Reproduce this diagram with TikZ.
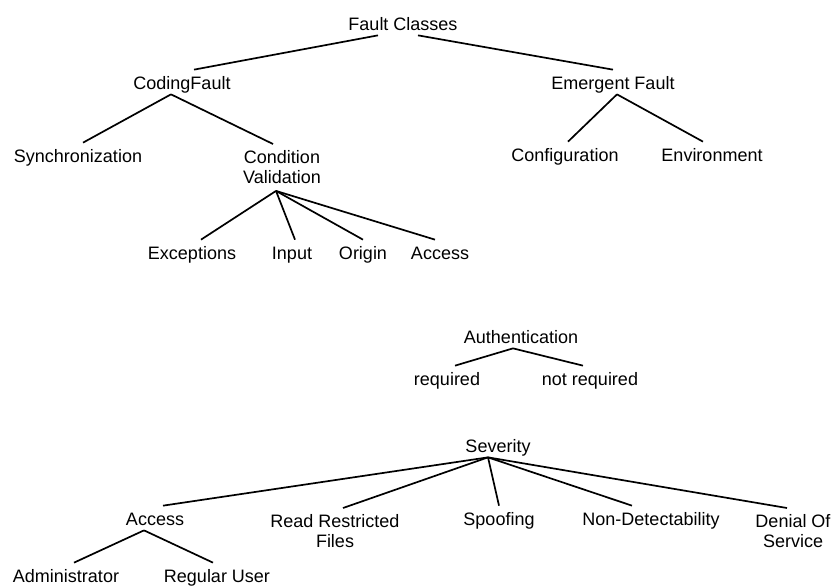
\documentclass[tikz,border=0pt]{standalone}
\usepackage{fontspec}
\setmainfont{Liberation Sans}

\begin{document}
\begin{tikzpicture}[x=1pt, y=-1pt, line width=1.7pt,
    lbl/.style={anchor=base, inner xsep=1pt, inner ysep=0.5pt, text height=18pt, text depth=4pt},
    lbltwo/.style={anchor=north, align=center, inner xsep=1pt, inner ysep=6pt}]

        \useasboundingbox (0, 0) rectangle (834, 587);
        \fontsize{18}{20}\selectfont

        % fault classes
        \node[lbl] (fc) at (403, 30) {Fault Classes};
        \node[lbl] (cf) at (182, 89) {CodingFault};
        \node[lbl] (ef) at (613, 89) {Emergent Fault};
        \node[lbl] (sync) at (78, 162) {Synchronization};
        \node[lbltwo] (cv) at (282, 144) {Condition\\Validation};
        \node[lbl] (conf) at (565, 161) {Configuration};
        \node[lbl] (env) at (712, 161) {Environment};
        \node[lbl] (exc) at (192, 259) {Exceptions};
        \node[lbl] (inp) at (292, 259) {Input};
        \node[lbl] (ori) at (363, 259) {Origin};
        \node[lbl] (acc) at (440, 259) {Access};

        \draw ([xshift=-25pt]fc.south) -- ([xshift=12pt]cf.north);
        \draw ([xshift=15pt]fc.south) -- (ef.north);
        \draw ([xshift=-11pt]cf.south) -- ([xshift=5pt]sync.north);
        \draw ([xshift=-11pt]cf.south) -- ([xshift=-9pt]cv.north);
        \draw ([xshift=4pt]ef.south) -- ([xshift=3pt]conf.north);
        \draw ([xshift=4pt]ef.south) -- ([xshift=-9pt]env.north);
        \foreach \c/\dx in {exc/9, inp/3, ori/0, acc/-5} {
            \draw ([xshift=-6pt]cv.south) -- ([xshift=\dx pt]\c.north);
        }

        % authentication
        \node[lbl] (auth) at (521, 343) {Authentication};
        \node[lbl] (req) at (447, 385) {required};
        \node[lbl] (nreq) at (590, 385) {not required};

        \draw ([xshift=-8pt]auth.south) -- ([xshift=8pt]req.north);
        \draw ([xshift=-8pt]auth.south) -- ([xshift=-7pt]nreq.north);

        % severity
        \node[lbl] (sev) at (498, 452) {Severity};
        \node[lbl] (sacc) at (155, 525) {Access};
        \node[lbltwo] (rrf) at (335, 508) {Read Restricted\\Files};
        \node[lbl] (spoof) at (499, 525) {Spoofing};
        \node[lbl] (ndet) at (651, 525) {Non-Detectability};
        \node[lbltwo] (dos) at (793, 508) {Denial Of\\Service};
        \node[lbl] (adm) at (66, 582) {Administrator};
        \node[lbl] (reg) at (217, 582) {Regular User};

        \foreach \c/\dx in {sacc/8, rrf/8, spoof/0, ndet/-19, dos/-6} {
            \draw ([xshift=-10pt]sev.south) -- ([xshift=\dx pt]\c.north);
        }
        \draw ([xshift=-11pt]sacc.south) -- ([xshift=8pt]adm.north);
        \draw ([xshift=-11pt]sacc.south) -- ([xshift=-4pt]reg.north);
    \end{tikzpicture}
\end{document}
